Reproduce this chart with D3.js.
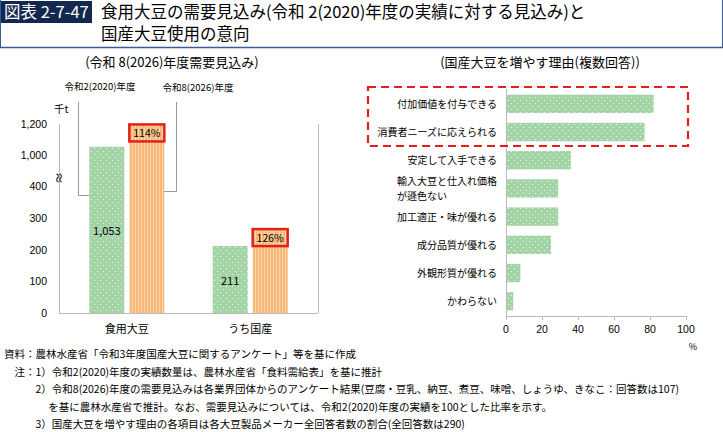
<!DOCTYPE html>
<html><head><meta charset="utf-8">
<script src="https://cdn.jsdelivr.net/npm/d3@7"></script>
<style>body{margin:0;background:#fff}svg{font-family:"Noto Sans CJK JP","Noto Sans",sans-serif}</style>
</head><body><div id="main"></div>
<script>
// left chart data (thousand t)
const demandCats = ["食用大豆", "うち国産"];
const actual2020 = [1053, 211];
const ratio2026 = [114, 126];
const demandTicks = [0, 100, 200, 300, 400, 1000, 1200];
const demandTickLabels = ["0", "100", "200", "300", "400", "1,000", "1,200"];

// right chart data (%)
const reasons = ["付加価値を付与できる", "消費者ニーズに応えられる", "安定して入手できる",
  "輸入大豆と仕入れ価格\nが遜色ない", "加工適正・味が優れる", "成分品質が優れる", "外観形質が優れる", "かわらない"];
const reasonPct = [82, 77, 36, 29, 29, 25, 8, 4];
const pctTicks = [0, 20, 40, 60, 80, 100];

const notes = [
  "資料：農林水産省「令和3年度国産大豆に関するアンケート」等を基に作成",
  "　注：1）令和2(2020)年度の実績数量は、農林水産省「食料需給表」を基に推計",
  "　　　2）令和8(2026)年度の需要見込みは各業界団体からのアンケート結果(豆腐・豆乳、納豆、煮豆、味噌、しょうゆ、きなこ：回答数は107)",
  "　　　　 を基に農林水産省で推計。なお、需要見込みについては、令和2(2020)年度の実績を100とした比率を示す。",
  "　　　3）国産大豆を増やす理由の各項目は各大豆製品メーカー全回答者数の割合(全回答数は290)"
];

const svg = d3.select("#main").append("svg").attr("width", 723).attr("height", 432);

const defs = svg.append("defs");
const dots = defs.append("pattern").attr("id", "dots").attr("patternUnits", "userSpaceOnUse")
  .attr("width", 6).attr("height", 6);
dots.append("rect").attr("width", 6).attr("height", 6).attr("fill", "#a3d4a6");
dots.append("circle").attr("cx", 1.5).attr("cy", 1.5).attr("r", 0.6).attr("fill", "#fff");
dots.append("circle").attr("cx", 4.5).attr("cy", 4.5).attr("r", 0.6).attr("fill", "#fff");
const stripes = defs.append("pattern").attr("id", "stripes").attr("patternUnits", "userSpaceOnUse")
  .attr("width", 3).attr("height", 3);
stripes.append("rect").attr("width", 3).attr("height", 3).attr("fill", "#f9b878");
stripes.append("rect").attr("width", 1).attr("height", 3).attr("fill", "#fbd7ad");

// header
svg.append("rect").attr("x", 0).attr("y", 1).attr("width", 92).attr("height", 22).attr("fill", "#13284f");
svg.append("text").attr("x", 4).attr("y", 18).attr("fill", "#fff").attr("font-size", 16.5).text("図表 2-7-47");
svg.append("text").attr("x", 101).attr("y", 18).attr("font-size", 16.5).text("食用大豆の需要見込み(令和 2(2020)年度の実績に対する見込み)と");
svg.append("text").attr("x", 101).attr("y", 40).attr("font-size", 16.5).text("国産大豆使用の意向");
svg.append("line").attr("x1", 0).attr("x2", 723).attr("y1", 47.5).attr("y2", 47.5).attr("stroke", "#3a5a9a").attr("stroke-width", 1.5);
svg.append("line").attr("x1", 0.5).attr("x2", 0.5).attr("y1", 0).attr("y2", 48).attr("stroke", "#3a5a9a");
svg.append("line").attr("x1", 722.5).attr("x2", 722.5).attr("y1", 0).attr("y2", 48).attr("stroke", "#3a5a9a");

// ---- left chart
const y = d3.scaleLinear().domain([0, 400, 1000, 1200]).range([313, 186, 155, 124]);
const x0 = d3.scaleBand().domain(demandCats).range([59, 318]).padding(0.1);
const L = svg.append("g");
L.append("text").attr("x", 172).attr("y", 67).attr("text-anchor", "middle").attr("font-size", 13).text("(令和 8(2026)年度需要見込み)");
L.append("line").attr("x1", 59.5).attr("x2", 59.5).attr("y1", 124).attr("y2", 313).attr("stroke", "#bbb");
L.append("line").attr("x1", 318.5).attr("x2", 318.5).attr("y1", 124).attr("y2", 313).attr("stroke", "#bbb");
L.append("line").attr("x1", 59).attr("x2", 318).attr("y1", 313.5).attr("y2", 313.5).attr("stroke", "#bbb");
L.selectAll(".yt").data(demandTicks).join("text").attr("x", 47).attr("y", d => y(d) + 4)
  .attr("text-anchor", "end").attr("font-size", 10.5).attr("font-family", "Liberation Sans, Arial")
  .text((d, i) => demandTickLabels[i]);
L.append("text").attr("x", 54).attr("y", 113).attr("font-size", 10.5).text("千t");
L.append("text").attr("x", 57).attr("y", 175).attr("font-size", 12).attr("transform", "rotate(90,57,172)").text("≈");

const groups = demandCats.map((c, i) => ({c, a: actual2020[i], f: actual2020[i] * ratio2026[i] / 100, r: ratio2026[i]}));
const bw = 35;
groups.forEach((g, i) => {
  const cx = x0(g.c) + x0.bandwidth() / 2;
  const xa = cx - bw - 2.5, xf = cx + 2.5;
  L.append("rect").attr("x", xa).attr("y", y(g.a)).attr("width", bw).attr("height", y(0) - y(g.a)).attr("fill", "url(#dots)");
  L.append("rect").attr("x", xf).attr("y", y(g.f)).attr("width", bw).attr("height", y(0) - y(g.f)).attr("fill", "url(#stripes)");
  L.append("text").attr("x", xa + bw / 2).attr("y", i === 0 ? 235 : 285).attr("text-anchor", "middle")
    .attr("font-size", 11).text(d3.format(",")(g.a));
  L.append("rect").attr("x", xf).attr("y", y(g.f) + 0.5).attr("width", bw).attr("height", 17)
    .attr("fill", "none").attr("stroke", "#e3201b").attr("stroke-width", 2.5);
  L.append("text").attr("x", xf + bw / 2).attr("y", y(g.f) + 13).attr("text-anchor", "middle")
    .attr("font-size", 10.5).text(g.r + "%");
  L.append("text").attr("x", cx).attr("y", 333).attr("text-anchor", "middle").attr("font-size", 11).text(g.c);
  if (i === 0) {
    L.append("path").attr("d", `M${xa},195.5H78.5V102`).attr("fill", "none").attr("stroke", "#999");
    L.append("path").attr("d", `M${xf + bw},191.5H176.5V102`).attr("fill", "none").attr("stroke", "#999");
  }
});
L.append("text").attr("x", 100).attr("y", 90).attr("text-anchor", "middle").attr("font-size", 9.5).text("令和2(2020)年度");
L.append("text").attr("x", 198).attr("y", 91).attr("text-anchor", "middle").attr("font-size", 9.5).text("令和8(2026)年度");

// ---- right chart
const xr = d3.scaleLinear().domain([0, 100]).range([506, 686]);
const yr = d3.scaleBand().domain(reasons).range([89, 316]).paddingInner(0.35).paddingOuter(0.2);
const R = svg.append("g");
R.append("text").attr("x", 540).attr("y", 67).attr("text-anchor", "middle").attr("font-size", 13).text("(国産大豆を増やす理由(複数回答))");
R.selectAll(".bar").data(reasons).join("rect").attr("x", xr(0)).attr("y", d => yr(d))
  .attr("width", (d, i) => xr(reasonPct[i]) - xr(0)).attr("height", yr.bandwidth()).attr("fill", "url(#dots)");
R.append("line").attr("x1", 506.5).attr("x2", 506.5).attr("y1", 89).attr("y2", 316).attr("stroke", "#bbb");
R.append("line").attr("x1", 506).attr("x2", 686).attr("y1", 316.5).attr("y2", 316.5).attr("stroke", "#bbb");
R.selectAll(".tk").data(pctTicks).join("line").attr("x1", d => xr(d) + 0.5).attr("x2", d => xr(d) + 0.5)
  .attr("y1", 316).attr("y2", 320).attr("stroke", "#bbb");
R.selectAll(".tl").data(pctTicks).join("text").attr("x", d => xr(d)).attr("y", 333).attr("text-anchor", "middle")
  .attr("font-size", 10.5).attr("font-family", "Liberation Sans, Arial").text(d => d);
R.append("text").attr("x", 693).attr("y", 350).attr("text-anchor", "middle").attr("font-size", 9).text("%");
reasons.forEach(r => {
  const lines = r.split("\n");
  const cy = yr(r) + yr.bandwidth() / 2;
  lines.forEach((ln, j) => {
    R.append("text").attr("x", lines.length > 1 && j === 1 ? 397 : 497)
      .attr("text-anchor", lines.length > 1 && j === 1 ? "start" : "end")
      .attr("y", cy + 4 + (j - (lines.length - 1) / 2) * 15).attr("font-size", 10).text(ln);
  });
});
R.append("rect").attr("x", 368).attr("y", 87).attr("width", 320).attr("height", 59).attr("fill", "none")
  .attr("stroke", "#e3201b").attr("stroke-width", 2.2).attr("stroke-dasharray", "8,5");

// notes
svg.selectAll(".note").data(notes).join("text").attr("x", 4).attr("y", (d, i) => 358 + i * 17.5)
  .attr("font-size", 10.5).text(d => d);
</script></body></html>
